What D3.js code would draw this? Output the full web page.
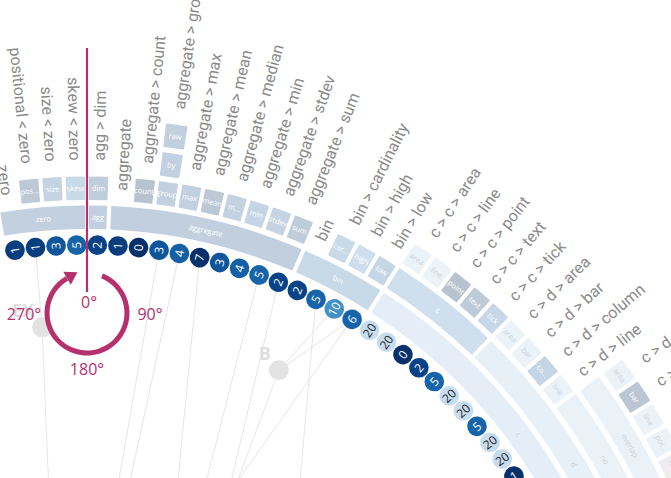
<!DOCTYPE html>
<html>
<head>
<meta charset="utf-8">
<script src="https://cdn.jsdelivr.net/npm/d3@7"></script>
<style>
    html, body { margin: 0; padding: 0; background: #fff; }
    svg { display: block; }
</style>
</head>
<body>
<div id="chart"></div>
<script>
// leaves of the tree, in the order they go round the ring
var leafPaths = [
    ['zero'], ['zero', 'positional'], ['zero', 'size'], ['zero', 'skew'],
    ['agg', 'dim'],
    ['aggregate'], ['aggregate', 'count'], ['aggregate', 'group', 'by', 'raw'], ['aggregate', 'max'],
    ['aggregate', 'mean'], ['aggregate', 'median'], ['aggregate', 'min'], ['aggregate', 'stdev'], ['aggregate', 'sum'],
    ['bin'], ['bin', 'cardinality'], ['bin', 'high'], ['bin', 'low'],
    ['c', 'c', 'area'], ['c', 'c', 'line'], ['c', 'c', 'point'], ['c', 'c', 'text'], ['c', 'c', 'tick'],
    ['c', 'd', 'area'], ['c', 'd', 'bar'], ['c', 'd', 'column'], ['c', 'd', 'line'],
    ['c', 'd', 'no', 'overlap', 'area'], ['c', 'd', 'no', 'overlap', 'bar'], ['c', 'd', 'no', 'overlap', 'line'],
    ['c', 'd', 'no', 'overlap', 'point'], ['c', 'd', 'no', 'overlap', 'rule'], ['c', 'd', 'no', 'overlap', 'text'],
    ['c', 'd', 'point'], ['c', 'd', 'text'], ['c', 'd', 'tick']
];

var leafLabels = [
    'zero', 'positional < zero', 'size < zero', 'skew < zero',
    'agg > dim',
    'aggregate', 'aggregate > count', 'aggregate > group > by > raw', 'aggregate > max',
    'aggregate > mean', 'aggregate > median', 'aggregate > min', 'aggregate > stdev', 'aggregate > sum',
    'bin', 'bin > cardinality', 'bin > high', 'bin > low',
    'c > c > area', 'c > c > line', 'c > c > point', 'c > c > text', 'c > c > tick',
    'c > d > area', 'c > d > bar', 'c > d > column', 'c > d > line',
    'c > d > no > overlap > area', 'c > d > no > overlap > bar', 'c > d > no > overlap > line',
    'c > d > no > overlap > point', 'c > d > no > overlap > rule', 'c > d > no > overlap > text',
    'c > d > point', 'c > d > text', 'c > d > tick'
];

var leafCounts = [1, 1, 3, 5, 2, 1, 0, 3, 4, 7, 3, 4, 5, 2, 2, 5, 10, 6,
    20, 20, 0, 2, 5, 20, 20, 5, 20, 20, 1, 20, 3, 20, 20, 20, 20, 20];

// darkness of each count bubble (0 light .. 1 dark)
var leafTones = [0.95, 0.95, 0.86, 0.8, 0.93, 0.95, 1, 0.86, 0.82, 1, 0.86, 0.82, 0.8, 0.93,
    0.93, 0.8, 0.63, 0.8, 0.24, 0.24, 1, 0.93, 0.8, 0.24, 0.24, 0.8, 0.24, 0.24, 1, 0.24,
    0.86, 0.24, 0.24, 0.24, 0.24, 0.24];

// shade of the boxes: 0 pale, 0.5 blue, 1 grey, negative = warm
var boxKeys = ['zero', 'zero/positional', 'zero/size', 'zero/skew',
    'agg', 'agg/dim', 'aggregate', 'aggregate/count', 'aggregate/group', 'aggregate/group/by',
    'aggregate/group/by/raw', 'aggregate/max', 'aggregate/mean', 'aggregate/median', 'aggregate/min',
    'aggregate/stdev', 'aggregate/sum', 'bin', 'bin/cardinality', 'bin/high', 'bin/low',
    'c', 'c/c', 'c/c/area', 'c/c/line', 'c/c/point', 'c/c/text', 'c/c/tick',
    'c/d', 'c/d/area', 'c/d/bar', 'c/d/column', 'c/d/line', 'c/d/no', 'c/d/no/overlap',
    'c/d/no/overlap/area', 'c/d/no/overlap/bar', 'c/d/no/overlap/line', 'c/d/no/overlap/point',
    'c/d/no/overlap/rule', 'c/d/no/overlap/text', 'c/d/point', 'c/d/text', 'c/d/tick'];
var boxShades = [0.72, 0.88, 0.66, 0.55,
    0.74, 0.8, 0.74, 1, 0.72, 0.72,
    0.74, 0.72, 0.9, 0.7, 0.62,
    0.66, 0.82, 0.55, 0.55, 0.45, 0.6,
    0.12, 0.42, 0.03, 0.04, 1, 0.85, 0.58,
    0.08, 0.03, 0.04, 0.62, 0.03, 0.06, 0.06,
    0.03, 0.95, 0.03, 0.03,
    -0.12, 0.03, 0.03, 0.03, 0.03];

var shortNames = {
    'zero/positional': 'pos...', 'aggregate/median': 'm...',
    'bin/cardinality': 'car...', 'c/d/column': 'co...', 'c/d/no/overlap/point': 'poi...'
};

// nodes of the inner network and their angle (degrees)
var netNodes = ['EX', 'B', 'n159', 'n177', 'n181', 'n183', 'n188', 'n192', 'n194', 'n220'];
var netAngles = [-6, 26.5, 159, 177, 181.2, 183, 188, 192, 194.4, 220];
var netLabels = ['EX', 'B', '', '', '', '', '', '', '', ''];
var leafLinks = [[1, 'EX'], [7, 'n192'], [8, 'n194'], [9, 'n177'], [12, 'n188'], [13, 'n183'],
    [15, 'n159'], [16, 'B'], [17, 'B'], [17, 'n220']];
var nodeLinks = [['EX', 'n181'], ['B', 'n194']];

var rotationTicks = ['0°', '90°', '180°', '270°'];


var width = 671,
    height = 478,
    cx = 87,
    cy = 755,
    slot = 2.32 * Math.PI / 180,
    firstSlot = -4,
    bubbleR = 510,
    netR = 430,
    labelGap = 16,
    magenta = '#b5306d',
    deg = function (a) { return a * 180 / Math.PI; };

var svg = d3.select('#chart').append('svg')
    .attr('width', width)
    .attr('height', height);

var g = svg.append('g').attr('transform', 'translate(' + cx + ',' + cy + ')');

var angle = d3.scaleLinear()
    .domain([0, 1])
    .range([firstSlot * slot, (firstSlot + 1) * slot]);
var mid = function (i) { return angle(i + 0.5); };

var ringInner = d3.scaleLinear().domain([0, 1]).range([526, 555]);
var ringOuter = function (d) { return ringInner(d) + 23.5; };

var shade = d3.scaleLinear()
    .domain([-1, 0, 0.5, 1])
    .range(['#f6b9a4', '#eef4f9', '#cadbeb', '#b9c3d0']);
var shadeOf = {};
boxKeys.forEach(function (k, i) { shadeOf[k] = boxShades[i]; });

// group consecutive leaves that share a prefix into one box per level
var boxes = [];
var maxDepth = d3.max(leafPaths, function (p) { return p.length; });
for (var dep = 0; dep < maxDepth; dep++) {
    var cur = null;
    leafPaths.forEach(function (p, i) {
        if (p.length <= dep) { cur = null; return; }
        var key = p.slice(0, dep + 1).join('/');
        if (cur && cur.key === key) {
            cur.end = i;
        } else {
            cur = { key: key, name: p[dep], depth: dep, start: i, end: i };
            boxes.push(cur);
        }
    });
}

var arc = d3.arc()
    .innerRadius(function (d) { return ringInner(d.depth); })
    .outerRadius(function (d) { return ringOuter(d.depth); })
    .startAngle(function (d) { return angle(d.start); })
    .endAngle(function (d) { return angle(d.end + 1); })
    .padAngle(4 / 560)
    .padRadius(560)
    .cornerRadius(1);

// network links
var nodePos = {};
netNodes.forEach(function (n, i) {
    nodePos[n] = d3.pointRadial(netAngles[i] * Math.PI / 180, netR);
});
var links = leafLinks.map(function (l) {
    return [d3.pointRadial(mid(l[0]), bubbleR), nodePos[l[1]]];
}).concat(nodeLinks.map(function (l) {
    return [nodePos[l[0]], nodePos[l[1]]];
}));

g.append('g').selectAll('line')
    .data(links)
    .enter().append('line')
    .attr('x1', function (d) { return d[0][0]; })
    .attr('y1', function (d) { return d[0][1]; })
    .attr('x2', function (d) { return d[1][0]; })
    .attr('y2', function (d) { return d[1][1]; })
    .attr('stroke', '#e6e6e6')
    .attr('stroke-width', 1);

var node = g.append('g').selectAll('g')
    .data(netNodes)
    .enter().append('g')
    .attr('transform', function (n) { return 'translate(' + nodePos[n][0] + ',' + nodePos[n][1] + ')'; });
node.append('circle')
    .attr('r', 10)
    .attr('fill', '#e3e3e3');
node.append('text')
    .text(function (n, i) { return netLabels[i]; })
    .attr('x', -8)
    .attr('y', -10)
    .attr('text-anchor', 'end')
    .attr('font-family', 'Open Sans, sans-serif')
    .attr('font-weight', 'bold')
    .attr('font-size', 18)
    .attr('fill', '#dedede');

// the hierarchy boxes
var box = g.append('g').selectAll('g')
    .data(boxes)
    .enter().append('g');
box.append('path')
    .attr('d', arc)
    .attr('fill', function (d) { return shade(shadeOf[d.key] || 0); });
box.append('text')
    .text(function (d) { return shortNames[d.key] || d.name; })
    .attr('transform', function (d) {
        var c = arc.centroid(d),
            a = deg((angle(d.start) + angle(d.end + 1)) / 2);
        return 'translate(' + c[0] + ',' + c[1] + ') rotate(' + a + ')';
    })
    .attr('dy', '0.35em')
    .attr('text-anchor', 'middle')
    .attr('font-family', 'Open Sans, sans-serif')
    .attr('font-size', 7.5)
    .attr('fill', function (d) { return (shadeOf[d.key] || 0) < 0.2 ? '#c9d1da' : '#ffffff'; });

// count bubbles
var bubble = g.append('g').selectAll('g')
    .data(leafCounts)
    .enter().append('g')
    .attr('transform', function (d, i) { return 'rotate(' + deg(mid(i)) + ') translate(0,' + (-bubbleR) + ')'; });
bubble.append('circle')
    .attr('r', 9.8)
    .attr('fill', function (d, i) { return d3.interpolateBlues(leafTones[i]); });
bubble.append('text')
    .text(function (d) { return d; })
    .attr('transform', 'rotate(-90)')
    .attr('dy', '0.36em')
    .attr('text-anchor', 'middle')
    .attr('font-family', 'Open Sans, sans-serif')
    .attr('font-size', 12)
    .attr('fill', function (d, i) { return leafTones[i] < 0.5 ? '#222' : '#fff'; });

// leaf labels, read outward on the right, inward on the left
g.append('g').selectAll('text')
    .data(leafLabels)
    .enter().append('text')
    .text(function (d) { return d; })
    .attr('transform', function (d, i) {
        var a = deg(mid(i)),
            r = ringOuter(leafPaths[i].length - 1) + labelGap;
        return 'rotate(' + a + ') translate(0,' + (-r) + ') rotate(' + (a < 0 ? 90 : -90) + ')';
    })
    .attr('text-anchor', function (d, i) { return deg(mid(i)) < 0 ? 'end' : 'start'; })
    .attr('dy', '0.35em')
    .attr('font-family', 'Roboto, sans-serif')
    .attr('font-size', 16)
    .attr('fill', '#8a8a8a');

// rotation annotation
var ann = g.append('g');
ann.append('line')
    .attr('x1', 0).attr('x2', 0)
    .attr('y1', -463).attr('y2', -707)
    .attr('stroke', magenta)
    .attr('stroke-width', 2.2);

var dial = ann.append('g').attr('transform', 'translate(0,-442)');
var dialStart = 22 * Math.PI / 180,
    dialEnd = 330 * Math.PI / 180;
dial.append('path')
    .attr('d', d3.arc().innerRadius(37.5).outerRadius(42.5).startAngle(dialStart).endAngle(dialEnd)())
    .attr('fill', magenta);
var tip = d3.pointRadial(dialEnd, 40),
    dir = [Math.cos(dialEnd), Math.sin(dialEnd)];
dial.append('path')
    .attr('d', 'M' + (tip[0] - dir[1] * 7.5) + ',' + (tip[1] + dir[0] * 7.5) +
        'L' + (tip[0] + dir[1] * 7.5) + ',' + (tip[1] - dir[0] * 7.5) +
        'L' + (tip[0] + dir[0] * 12) + ',' + (tip[1] + dir[1] * 12) + 'Z')
    .attr('fill', magenta);

var tickPos = [[2, -5], [63, 7], [0, 62], [-63, 7]];
dial.selectAll('text')
    .data(rotationTicks)
    .enter().append('text')
    .text(function (d) { return d; })
    .attr('x', function (d, i) { return tickPos[i][0]; })
    .attr('y', function (d, i) { return tickPos[i][1]; })
    .attr('text-anchor', 'middle')
    .attr('font-family', 'Open Sans, sans-serif')
    .attr('font-size', 16)
    .attr('fill', magenta);
</script>
</body>
</html>
